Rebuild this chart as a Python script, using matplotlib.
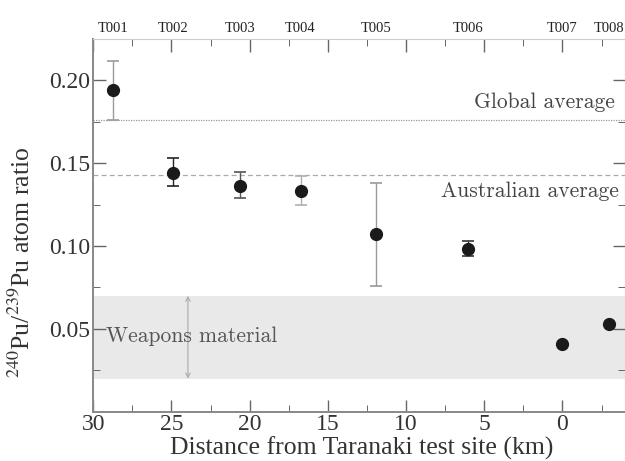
import matplotlib
matplotlib.use("Agg")
import matplotlib.pyplot as plt

plt.rcParams["mathtext.fontset"] = "stix"

# Data
sites = ["T001", "T002", "T003", "T004", "T005", "T006", "T007", "T008"]
distance_km = [28.75, 24.9, 20.6, 16.75, 11.9, 6.05, 0.0, -3.0]
ratio = [0.194, 0.144, 0.1365, 0.133, 0.107, 0.0985, 0.041, 0.053]
err_low = [0.018, 0.008, 0.0075, 0.008, 0.031, 0.0045, 0.0, 0.0]
err_high = [0.018, 0.009, 0.008, 0.0095, 0.031, 0.0045, 0.0, 0.0]
err_colors = ["#9a9a9a", "#222222", "#555555", "#b0b0b0", "#9a9a9a", "#333333", "#999999", "#999999"]

global_avg = 0.176
australian_avg = 0.143
weapons_low, weapons_high = 0.02, 0.07

x_ticks = [30, 25, 20, 15, 10, 5, 0]
y_ticks = [0.05, 0.10, 0.15, 0.20]

serif = "Liberation Serif"
cm = "cmr10"

fig = plt.figure(figsize=(6.25, 4.61), dpi=100)
ax = fig.add_axes([93.3 / 625, 1 - 411.7 / 461, 1 - 93.3 / 625, (411.7 - 39) / 461])

ax.set_xlim(30, -4)
ax.set_ylim(0.0, 0.225)

# weapons band
ax.axhspan(weapons_low, weapons_high, color="#e9e9ea", zorder=0, lw=0)
ax.annotate("", xy=(23.95, weapons_high), xytext=(23.95, weapons_low),
            arrowprops=dict(arrowstyle="<->", color="#aaaaaa", lw=0.8,
                            mutation_scale=8, shrinkA=0, shrinkB=0), zorder=1)
ax.text(29.2, 0.0455, "Weapons material", family=cm, fontsize=15.5,
        color="#555555", ha="left", va="center")

# average lines
ax.axhline(global_avg, color="#9a9a9a", lw=0.9, ls=(0, (1, 1)), zorder=1)
ax.axhline(australian_avg, color="#aaaaaa", lw=0.9, ls=(0, (4, 2.5)), zorder=1)
ax.text(-3.35, 0.1866, "Global average", family=cm, fontsize=15.5,
        color="#444444", ha="right", va="center")
ax.text(-3.6, 0.1329, "Australian average", family=cm, fontsize=15.5,
        color="#444444", ha="right", va="center")

# data
for xv, yv, lo, hi, c in zip(distance_km, ratio, err_low, err_high, err_colors):
    if lo > 0 or hi > 0:
        ax.errorbar([xv], [yv], yerr=[[lo], [hi]], fmt="none", ecolor=c,
                    elinewidth=1.0, capsize=4, capthick=1.2, zorder=2)
ax.plot(distance_km, ratio, "o", color="#1a1a1a", ms=8.5, zorder=3)

# site labels on top
for s, xv in zip(sites, distance_km):
    ax.text(xv, 1.0 + 11 / 373, s, transform=ax.get_xaxis_transform(),
            family=serif, fontsize=10.5, ha="center", va="center", color="#222222")

# ticks
ax.set_xticks(x_ticks)
ax.set_xticks([27.5, 22.5, 17.5, 12.5, 7.5, 2.5, -2.5], minor=True)
ax.set_yticks(y_ticks)
ax.set_yticks([0.025, 0.075, 0.125, 0.175], minor=True)
ax.set_yticklabels([f"{v:.2f}" for v in y_ticks])
ax.set_xticklabels([str(v) for v in x_ticks])
ax.tick_params(which="both", direction="in", top=True, right=True, color="#666666")
ax.tick_params(which="major", length=9, width=1.0, labelsize=17, pad=2)
ax.tick_params(which="minor", length=5, width=0.7)
for lab in ax.get_xticklabels() + ax.get_yticklabels():
    lab.set_family(serif)
    lab.set_color("#333333")

for side in ["left", "bottom"]:
    ax.spines[side].set_color("#888888")
    ax.spines[side].set_linewidth(1.4)
for side in ["top", "right"]:
    ax.spines[side].set_color("#cccccc")
    ax.spines[side].set_linewidth(0.8)

ax.set_xlabel("Distance from Taranaki test site (km)", family=serif, fontsize=18.5,
              color="#333333")
ax.xaxis.set_label_coords((362 - 93.3) / 531.7, -(437 - 411.7) / 372.7)
ax.set_ylabel(r"$^{240}$Pu/$^{239}$Pu atom ratio", family=serif, fontsize=18.5,
              color="#333333")
ax.yaxis.set_label_coords((35 - 93.3) / 531.7, (411.7 - 262) / 372.7)

fig.savefig("out.png", dpi=100)
